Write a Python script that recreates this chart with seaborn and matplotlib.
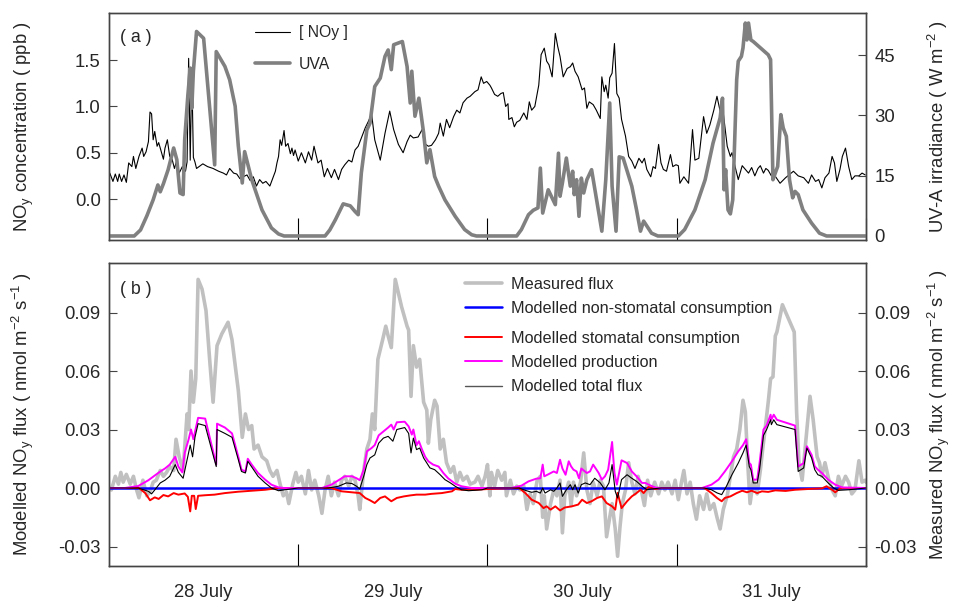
import matplotlib
matplotlib.use("Agg")
import matplotlib.pyplot as plt
from matplotlib.lines import Line2D
import seaborn as sns

sns.set_style("white")
plt.rcParams['font.family'] = ['Liberation Sans', 'DejaVu Sans']
plt.rcParams['mathtext.fontset'] = 'custom'
plt.rcParams['mathtext.rm'] = 'Liberation Sans'
plt.rcParams['mathtext.it'] = 'Liberation Sans:italic'
plt.rcParams['mathtext.default'] = 'regular'
plt.rcParams['axes.unicode_minus'] = False

# ---------------- data (hours since 28 July 00:00) ----------------
uva_hours = [0, 3.2, 4.0, 4.8, 5.6, 6.2, 6.5, 6.9, 7.5, 8.2, 8.6, 9.0, 9.4, 9.6, 10.0, 10.3, 10.5, 10.7, 11.1, 12.0,
             13.4, 13.6, 14.7, 15.3, 16.0, 16.4, 16.9, 17.2, 18.1, 19.4, 20.6, 21.5, 22.2,
             27.4, 28.0, 28.7, 29.7, 30.6, 31.2, 31.6, 32.0, 32.7, 33.1, 33.7, 34.4, 35.0, 35.4, 35.8, 36.1, 37.2,
             37.8, 38.2, 38.4, 38.8, 39.3, 39.9, 40.3, 40.7, 41.3, 41.8, 42.6, 43.9, 45.1, 46.0, 46.6,
             51.7, 52.3, 53.2, 53.8, 54.4, 54.7, 55.0, 55.3, 55.7, 56.6, 57.0, 57.2, 57.5, 58.0, 58.5, 58.8, 59.0,
             59.3, 59.6, 59.9, 60.2, 60.6, 61.2, 61.9, 62.5, 63.0, 63.5, 63.8, 64.3, 64.7, 65.2, 66.3, 66.9, 67.4,
             67.8, 68.8, 69.6,
             72.2, 73.0, 74.3, 75.6, 76.6, 77.5, 77.8, 78.0, 78.2, 78.5, 78.8, 79.1, 79.6, 79.8, 80.2, 80.4, 80.7,
             80.9, 81.1, 81.4, 81.7, 83.6, 83.9, 84.2, 84.5, 84.8, 85.2, 85.5, 85.9, 86.3, 86.7, 87.0, 87.4, 88.0,
             89.1, 90.1, 91.0, 96.0]
uva_values = [0, 0, 1.5, 5.0, 9.0, 12.7, 11.0, 13.0, 16.5, 21.9, 19.0, 10.7, 10.3, 24.0, 35.0, 41.8, 31.8, 41.0, 50.9, 49.2,
              17.7, 45.9, 42.2, 38.9, 32.3, 22.4, 13.2, 21.0, 14.0, 6.5, 2.0, 0.5, 0,
              0, 1.5, 4.0, 8.0, 7.5, 6.1, 5.3, 15.7, 26.4, 28.1, 37.2, 39.3, 44.7, 46.3, 41.4, 47.6, 48.4,
              42.2, 33.1, 41.0, 29.8, 34.3, 25.6, 18.2, 21.5, 14.8, 12.4, 9.0, 4.9, 1.6, 0.3, 0,
              0, 1.6, 5.3, 6.4, 7.0, 16.9, 5.7, 8.2, 11.5, 7.8, 20.6, 9.9, 13.2, 19.4, 12.4, 16.1, 10.3,
              14.0, 4.9, 14.4, 10.7, 14.0, 16.5, 8.2, 1.2, 14.0, 33.1, 12.4, 1.2, 19.7, 19.4, 12.4, 6.5, 1.2,
              3.7, 0.7, 0,
              0, 1.6, 6.5, 14.0, 23.1, 29.4, 34.3, 11.5, 16.5, 6.5, 5.5, 9.0, 38.9, 43.5, 44.7, 46.8, 53.0,
              48.8, 53.0, 48.8, 48.4, 45.1, 43.9, 14.0, 15.7, 17.3, 30.2, 26.9, 24.8, 14.0, 9.5, 11.1, 10.3, 6.5,
              3.2, 0.7, 0, 0]

noy_hours = [0.1, 0.5, 0.8, 1.1, 1.3, 1.6, 1.9, 2.2, 2.5, 2.9, 3.1, 3.4, 3.8, 4.2, 4.4, 4.7, 5.0, 5.2, 5.4, 5.6, 5.8,
             6.1, 6.3, 6.6, 6.9, 7.1, 7.4, 7.7, 8.0, 8.3, 8.6, 8.9, 9.3, 9.7, 9.9, 10.1, 10.3, 10.5, 10.7, 10.9,
             11.1, 11.9, 12.5, 13.2, 13.9, 14.5, 14.9, 15.3, 15.8, 16.2, 16.6, 17.0, 17.5, 17.9, 18.3, 18.7, 19.1,
             19.5, 19.9, 20.4, 20.8, 21.1, 21.3, 21.5, 21.7, 21.9, 22.2, 22.4, 22.7, 23.0, 23.2, 23.4,
             23.6, 24.0, 24.4, 24.9, 25.3, 25.7, 26.0, 26.5, 26.9, 27.3, 27.7, 28.2, 28.6, 29.1, 29.5, 29.9, 30.4,
             30.8, 31.2, 31.6, 32.1, 32.5, 32.9, 33.3, 33.7, 34.4, 35.0, 35.6, 36.1, 36.7, 37.3, 37.8, 38.2, 38.6,
             39.2, 39.7, 40.0, 40.5, 40.9, 41.4, 41.8, 42.0, 42.4, 42.8, 43.2, 43.7, 44.1, 44.5, 44.9, 45.4, 45.8,
             46.4, 46.8, 47.2, 47.5,
             47.9, 48.3, 48.5, 48.9, 49.3, 49.7, 50.0, 50.3, 50.6, 50.7, 51.1, 51.4, 51.7, 52.1, 52.6, 53.0, 53.3,
             53.6, 54.0, 54.5, 54.8, 55.2, 55.5, 55.8, 56.2, 56.6, 56.9, 57.2, 57.6, 58.1, 58.5, 58.8, 59.1, 59.5,
             60.0, 60.3, 60.6, 60.9, 61.4, 61.8, 62.3, 62.5, 62.8, 63.0, 63.3, 63.5, 63.8, 64.1, 64.4, 64.7, 65.0,
             65.5, 65.9, 66.3, 66.7, 67.2, 67.6, 67.9, 68.2, 68.7, 69.0, 69.3, 69.7, 70.0, 70.3, 70.7, 71.2, 71.5,
             71.9,
             72.2, 72.4, 72.9, 73.5, 74.0, 74.3, 74.8, 75.4, 75.8, 76.2, 76.7, 77.1, 77.5, 77.9, 78.4, 78.8, 79.0,
             79.4, 79.8, 80.3, 80.7, 81.1, 81.5, 81.9, 82.3, 82.6, 83.0, 83.3, 83.6, 84.0, 84.3, 85.1, 85.8, 86.8,
             87.4, 88.1, 88.7, 89.1, 89.6, 90.0, 90.4, 90.8, 91.3, 91.7, 92.0, 92.3, 92.7, 93.0, 93.4, 93.8, 94.2,
             94.6, 95.1, 95.5, 95.9]
noy_values = [0.28, 0.19, 0.27, 0.19, 0.27, 0.19, 0.26, 0.18, 0.39, 0.35, 0.46, 0.33, 0.46, 0.55, 0.46, 0.51, 0.62, 0.94,
              0.92, 0.64, 0.73, 0.57, 0.61, 0.52, 0.43, 0.55, 0.64, 0.46, 0.43, 0.33, 0.42, 0.28, 0.35, 0.30, 0.40,
              1.52, 0.42, 1.38, 0.45, 0.40, 0.33, 0.38, 0.35, 0.33, 0.30, 0.28, 0.26, 0.33, 0.28, 0.27, 0.22, 0.24,
              0.26, 0.20, 0.24, 0.14, 0.21, 0.17, 0.19, 0.14, 0.23, 0.30, 0.39, 0.46, 0.64, 0.58, 0.74, 0.57, 0.60,
              0.49, 0.55, 0.47,
              0.53, 0.41, 0.50, 0.39, 0.51, 0.42, 0.57, 0.39, 0.42, 0.24, 0.33, 0.23, 0.32, 0.21, 0.32, 0.37, 0.42,
              0.40, 0.53, 0.57, 0.68, 0.77, 0.84, 0.92, 0.64, 0.42, 0.71, 0.95, 0.75, 0.59, 0.50, 0.62, 0.69, 0.66,
              0.67, 0.75, 0.60, 0.57, 0.58, 0.64, 0.71, 0.82, 0.68, 0.86, 0.77, 0.89, 0.96, 0.93, 1.04, 1.09, 1.11,
              1.16, 1.18, 1.32, 1.25,
              1.27, 1.23, 1.20, 1.13, 1.11, 1.14, 1.15, 1.00, 1.03, 0.86, 0.88, 0.78, 0.83, 0.85, 0.93, 0.86, 1.05,
              0.96, 1.00, 1.23, 1.56, 1.63, 1.49, 1.45, 1.32, 1.79, 1.65, 1.54, 1.32, 1.41, 1.43, 1.47, 1.38, 1.32,
              1.18, 1.20, 0.98, 1.05, 1.02, 0.96, 0.87, 1.32, 1.16, 1.23, 1.09, 1.31, 1.36, 1.68, 1.14, 1.09, 0.86,
              0.68, 0.46, 0.41, 0.33, 0.44, 0.39, 0.44, 0.32, 0.24, 0.35, 0.33, 0.59, 0.39, 0.32, 0.30, 0.48, 0.35,
              0.37,
              0.36, 0.17, 0.24, 0.17, 0.75, 0.42, 0.44, 0.89, 0.71, 0.80, 0.96, 1.11, 0.95, 0.93, 0.57, 0.46, 0.50,
              0.35, 0.21, 0.36, 0.32, 0.28, 0.34, 0.25, 0.33, 0.36, 0.28, 0.33, 0.31, 0.25, 0.27, 0.17, 0.23, 0.30,
              0.25, 0.23, 0.17, 0.26, 0.19, 0.21, 0.12, 0.23, 0.28, 0.46, 0.39, 0.19, 0.32, 0.46, 0.55, 0.35, 0.21,
              0.25, 0.25, 0.28, 0.26]

meas_hours = [0.0, 0.3, 0.8, 1.2, 1.5, 1.8, 2.2, 2.7, 3.1, 3.5, 3.8, 4.3, 4.8, 5.2, 5.6, 6.0, 6.5, 6.9, 7.3, 7.7, 8.2,
              8.5, 8.9, 9.4, 9.9, 10.1, 10.4, 10.7, 11.0, 11.3, 11.8, 12.3, 12.8, 13.2, 13.7, 14.3, 15.1, 15.6, 16.4,
              16.9, 17.3, 17.7, 18.1, 18.4, 18.9, 19.4, 20.0, 20.4, 20.8, 21.3, 21.7, 22.1, 22.5, 22.8, 23.3, 23.7,
              24.0, 24.4, 24.9, 25.3, 25.7, 26.1, 26.6, 27.0, 27.4, 27.8, 28.2, 28.6, 29.1, 29.5, 29.9, 30.4, 30.8,
              31.2, 31.6, 31.8, 32.3, 32.7, 33.1, 33.4, 33.7, 34.1, 34.7, 35.1, 35.4, 35.8, 36.3, 37.1, 37.8, 38.0,
              38.3, 38.6, 39.0, 39.4, 39.9, 40.3, 40.5, 40.8, 41.3, 41.6, 42.0, 42.4, 42.8, 43.3, 43.7, 44.1, 44.5,
              44.9, 45.4, 45.8, 46.4, 46.8, 47.3, 47.7, 48.0,
              48.3, 48.5, 48.9, 49.3, 49.8, 50.2, 50.4, 50.9, 51.3, 51.7, 52.1, 52.6, 53.0, 53.4, 53.8, 54.3, 54.7,
              55.0, 55.2, 55.5, 56.0, 56.4, 56.8, 57.2, 57.5, 57.8, 58.3, 58.6, 58.9, 59.3, 59.8, 60.2, 60.6, 61.0,
              61.4, 61.9, 62.3, 62.7, 63.1, 63.5, 63.8, 64.2, 64.5, 64.8, 65.1, 65.5, 65.9, 66.3, 66.7, 67.1, 67.6,
              67.9, 68.3, 68.7, 69.2, 69.7, 70.1, 70.5, 70.9, 71.4, 71.8,
              72.2, 72.6, 72.9, 73.3, 73.7, 74.1, 74.5, 74.9, 75.4, 75.8, 76.2, 76.7, 77.1, 77.5, 77.9, 78.4, 78.8,
              79.2, 79.6, 80.0, 80.4, 80.7, 81.0, 81.3, 81.7, 82.2, 82.6, 82.9, 83.2, 83.6, 83.9, 84.2, 84.5, 84.7,
              85.4, 86.9, 87.2, 87.5, 87.9, 88.3, 88.9, 89.3, 89.8, 90.1, 90.4, 90.8, 91.3, 91.7, 92.1, 92.5, 92.9,
              93.4, 93.8, 94.2, 94.6, 95.1, 95.5, 95.9, 96.0]
meas_values = [0.000, -0.001, 0.006, 0.002, 0.008, 0.003, 0.007, 0.002, 0.006, -0.001, -0.005, 0.004, -0.004, -0.002,
               0.003, 0.004, 0.009, 0.006, 0.008, 0.011, 0.009, 0.025, 0.016, 0.009, 0.038, 0.030, 0.060, 0.044,
               0.056, 0.107, 0.102, 0.091, 0.064, 0.044, 0.073, 0.079, 0.085, 0.076, 0.050, 0.026, 0.038, 0.030,
               0.032, 0.020, 0.022, 0.016, 0.014, 0.009, 0.006, 0.009, 0.002, -0.004, -0.002, -0.008, 0.002, 0.008,
               0.003, 0.006, -0.003, 0.009, -0.001, 0.004, -0.004, -0.013, -0.001, 0.006, -0.004, 0.003, -0.004,
               0.004, 0.006, 0.001, 0.006, 0.004, -0.004, -0.011, 0.009, 0.020, 0.025, 0.038, 0.030, 0.066, 0.076,
               0.083, 0.078, 0.072, 0.107, 0.093, 0.083, 0.081, 0.047, 0.073, 0.062, 0.066, 0.044, 0.040, 0.023,
               0.035, 0.045, 0.042, 0.020, 0.025, 0.013, 0.008, 0.011, 0.003, 0.008, 0.004, 0.006, 0.002, 0.003,
               0.006, 0.001, 0.006, 0.012,
               -0.004, 0.008, 0.001, 0.009, 0.004, 0.008, -0.004, 0.004, -0.003, 0.001, -0.001, 0.001, -0.011,
               -0.003, -0.008, 0.004, 0.006, -0.015, -0.004, -0.021, -0.008, -0.001, -0.004, 0.004, -0.023, -0.004,
               0.003, -0.009, 0.003, -0.004, 0.003, 0.018, -0.001, -0.008, 0.003, -0.004, 0.004, 0.001, -0.025,
               -0.015, -0.008, -0.021, -0.035, -0.020, -0.008, -0.001, 0.013, 0.003, -0.003, 0.006, -0.003, -0.009,
               0.004, -0.004, 0.003, -0.003, 0.003, -0.001, 0.003, -0.003, 0.004,
               -0.006, 0.003, 0.009, -0.003, 0.003, -0.008, -0.016, -0.004, -0.011, -0.003, -0.011, -0.008, -0.015,
               -0.021, -0.011, -0.004, 0.006, 0.016, 0.020, 0.030, 0.045, 0.039, 0.013, -0.008, 0.004, -0.003,
               0.009, 0.020, 0.030, 0.044, 0.056, 0.057, 0.078, 0.080, 0.094, 0.080, 0.039, 0.013, 0.004, 0.021,
               0.047, 0.035, 0.016, 0.013, 0.006, 0.013, 0.004, -0.001, -0.004, 0.006, 0.001, 0.006, 0.003, -0.003,
               -0.001, 0.014, 0.003, 0.004, 0.003]

nonstom_hours = [0, 24, 48, 72, 96]
nonstom_values = [0, 0, 0, 0, 0]

stom_hours = [0, 3.8, 4.6, 5.2, 5.8, 6.3, 6.9, 7.5, 8.2, 8.8, 9.6, 10.0, 10.3, 10.5, 10.8, 11.0, 11.3, 12.2, 13.4,
              14.7, 16.4, 18.1, 19.8, 21.5,
              28.2, 29.5, 30.8, 31.8, 32.5, 33.1, 33.7, 34.4, 35.0, 35.8, 36.5, 37.4, 38.2, 39.0, 40.1, 40.9, 42.2,
              43.5, 43.9, 44.7, 46.4, 48.1,
              52.0, 52.8, 53.6, 54.5, 55.1, 55.5, 56.0, 56.6, 57.2, 57.8, 58.7, 59.5, 60.0, 60.6, 61.2, 61.9, 62.5,
              63.1, 63.8, 64.2, 64.5, 65.0, 65.7, 66.3, 66.9, 67.4, 67.8, 68.4, 69.3, 70.0,
              75.5, 76.4, 77.1, 77.7, 78.1, 78.8, 79.6, 80.3, 80.9, 81.5, 82.2, 82.8, 83.6, 84.5, 85.8, 87.0, 88.7,
              90.4, 91.0, 91.7, 92.1, 92.7, 93.5, 96]
stom_values = [0, 0, -0.0026, -0.0063, -0.0048, -0.0056, -0.0036, -0.0043, -0.0026, -0.0034, -0.0028, -0.0045, -0.012,
               -0.0040, -0.0040, -0.0108, -0.0040, -0.0037, -0.0034, -0.0026, -0.0019, -0.0014, -0.0009, 0,
               0, -0.0017, -0.0022, -0.0026, -0.0051, -0.0063, -0.0077, -0.0051, -0.0043, -0.0068, -0.0051, -0.0043,
               -0.0038, -0.0034, -0.0034, -0.0030, -0.0026, -0.0017, -0.0005, -0.0009, -0.0009, -0.0005,
               0, -0.0026, -0.0060, -0.0077, -0.0103, -0.0094, -0.0111, -0.0094, -0.0115, -0.0100, -0.0094, -0.0085,
               -0.0060, -0.0077, -0.0068, -0.0051, -0.0043, -0.0077, -0.0094, -0.0111, -0.0025, -0.0103, -0.0068,
               -0.0043, -0.0026, -0.0009, -0.0026, 0.0005, -0.0005, 0,
               0, -0.0026, -0.0051, -0.0068, -0.0051, -0.0043, -0.0026, -0.0014, -0.0022, -0.0014, -0.0026, -0.0017,
               -0.0020, -0.0012, -0.0015, -0.0009, -0.0005, -0.0002, 0.0009, -0.0009, -0.0022, -0.0002, 0, 0]

prod_hours = [0, 2.0, 3.7, 5.0, 6.0, 6.7, 7.1, 7.7, 8.4, 8.8, 9.3, 9.6, 10.1, 10.4, 10.7, 11.3, 12.2, 13.6, 13.7,
              14.7, 15.6, 16.4, 16.8, 17.3, 17.6, 18.1, 18.9, 19.8, 20.6, 21.5, 22.2,
              27.0, 28.2, 29.1, 29.9, 30.8, 31.4, 31.8, 32.3, 32.7, 33.3, 33.7, 34.2, 34.8, 35.4, 35.8, 36.1, 36.5,
              37.5, 38.0, 38.4, 38.6, 39.0, 39.3, 39.7, 40.1, 40.5, 41.1, 41.8, 42.4, 43.0, 43.9, 44.7, 46.0,
              51.0, 52.3, 53.2, 54.2, 54.7, 55.0, 55.2, 55.7, 56.4, 56.8, 57.2, 57.5, 57.9, 58.3, 58.6, 58.9, 59.3,
              59.6, 59.9, 60.6, 61.0, 61.4, 62.1, 62.5, 62.9, 63.3, 63.8, 64.1, 64.4, 65.0, 65.7, 66.3, 66.9, 67.6,
              68.0, 68.6, 69.3, 70.0,
              75.2, 76.4, 77.3, 78.1, 79.0, 79.8, 80.4, 80.8, 81.2, 81.4, 81.7, 82.2, 82.5, 83.0, 83.4, 83.9, 84.0,
              84.3, 84.7, 87.0, 87.4, 88.1, 88.5, 89.1, 89.5, 89.9, 90.4, 91.2, 92.1, 93.0, 96]
prod_values = [0, 0, 0.0010, 0.0040, 0.0070, 0.0090, 0.0100, 0.0120, 0.0160, 0.0110, 0.0080, 0.0180, 0.0250, 0.0300,
               0.0250, 0.0360, 0.0356, 0.0120, 0.0330, 0.0310, 0.0280, 0.0160, 0.0094, 0.0085, 0.0150, 0.0120,
               0.0077, 0.0043, 0.0017, 0.0003, 0,
               0, 0.0017, 0.0040, 0.0060, 0.0060, 0.0050, 0.0040, 0.0094, 0.0188, 0.0205, 0.0220, 0.0270, 0.0290,
               0.0310, 0.0325, 0.0300, 0.0337, 0.0340, 0.0316, 0.0274, 0.0300, 0.0220, 0.0240, 0.0197, 0.0160,
               0.0137, 0.0120, 0.0110, 0.0077, 0.0050, 0.0022, 0.0009, 0,
               0, 0.0012, 0.0034, 0.0048, 0.0050, 0.0120, 0.0060, 0.0070, 0.0085, 0.0077, 0.0145, 0.0100, 0.0068,
               0.0137, 0.0111, 0.0094, 0.0085, 0.0050, 0.0100, 0.0077, 0.0085, 0.0120, 0.0077, 0.0043, 0.0060,
               0.0094, 0.0236, 0.0077, 0.0017, 0.0142, 0.0128, 0.0085, 0.0060, 0.0026, 0.0026, 0.0014, 0.0002, 0,
               0, 0.0017, 0.0043, 0.0085, 0.0137, 0.0188, 0.0220, 0.0250, 0.0128, 0.0120, 0.0043, 0.0043, 0.0128,
               0.0300, 0.0320, 0.0376, 0.0350, 0.0376, 0.0350, 0.0320, 0.0110, 0.0128, 0.0214, 0.0170, 0.0111,
               0.0094, 0.0077, 0.0043, 0.0017, 0.0003, 0]

total_hours = [0, 3.7, 5.0, 5.4, 5.8, 6.5, 7.1, 7.7, 8.4, 8.8, 9.4, 9.9, 10.3, 10.6, 10.9, 11.3, 12.2, 13.6, 13.7,
               14.7, 15.6, 16.4, 16.8, 17.3, 17.6, 18.1, 18.9, 19.8, 20.6, 21.5, 22.3, 23.2, 24.0,
               27.8, 29.1, 30.1, 30.8, 31.4, 31.8, 32.3, 32.7, 33.1, 33.7, 34.2, 34.8, 35.4, 36.0, 36.5, 37.5, 38.0,
               38.3, 38.6, 39.0, 39.4, 39.9, 40.3, 40.7, 41.3, 42.0, 42.6, 43.3, 43.9, 44.7, 45.6, 47.3, 48.0,
               52.0, 52.8, 53.6, 54.2, 54.7, 55.0, 55.3, 56.0, 56.4, 56.8, 57.2, 57.5, 58.0, 58.5, 58.8, 59.1, 59.5,
               59.9, 60.4, 61.0, 61.6, 62.3, 62.9, 63.4, 63.8, 64.2, 64.5, 65.0, 65.7, 66.3, 66.9, 67.6, 68.2, 68.8,
               70.0,
               75.5, 76.4, 77.1, 77.7, 78.3, 79.0, 79.8, 80.4, 80.8, 81.2, 81.4, 81.7, 82.2, 82.5, 83.0, 83.4, 83.9,
               84.0, 84.3, 84.7, 87.0, 87.4, 88.1, 88.5, 89.1, 89.5, 89.9, 90.4, 91.2, 91.9, 92.5, 93.8, 96]
total_values = [0, 0, -0.0017, -0.0030, -0.0010, 0.0026, 0.0040, 0.0060, 0.0120, 0.0080, 0.0050, 0.0145, 0.0220,
                0.0160, 0.0260, 0.0330, 0.0320, 0.0110, 0.0300, 0.0280, 0.0260, 0.0145, 0.0085, 0.0077, 0.0137,
                0.0108, 0.0060, 0.0026, 0, -0.0014, -0.0009, -0.0004, 0,
                0, 0.0009, 0.0026, 0.0023, 0.0009, -0.0005, 0.0060, 0.0120, 0.0154, 0.0170, 0.0230, 0.0256, 0.0265,
                0.0240, 0.0300, 0.0310, 0.0280, 0.0180, 0.0256, 0.0197, 0.0205, 0.0154, 0.0128, 0.0103, 0.0094,
                0.0068, 0.0043, 0.0026, 0.0009, -0.0009, -0.0014, -0.0009, 0,
                0, -0.0012, -0.0022, -0.0017, -0.0026, 0, -0.0026, -0.0009, -0.0017, 0, 0.0026, -0.0043, -0.0009,
                0.0017, -0.0009, 0.0017, -0.0026, 0.0017, 0.0026, 0.0017, 0.0050, 0.0026, -0.0009, 0.0026, 0.0120,
                -0.0017, -0.0051, 0.0043, 0.0068, 0.0050, 0.0034, 0.0009, -0.0009, -0.0005, 0,
                0, -0.0009, -0.0025, -0.0034, 0.0009, 0.0068, 0.0128, 0.0180, 0.0220, 0.0110, 0.0094, 0.0026,
                0.0026, 0.0094, 0.0270, 0.0300, 0.0350, 0.0325, 0.0350, 0.0325, 0.0300, 0.0085, 0.0103, 0.0205,
                0.0154, 0.0094, 0.0068, 0.0060, 0.0026, 0, -0.0012, -0.0009, 0]

day_ticks = [24, 48, 72, 96]
day_label_pos = [12, 36, 60, 84]
day_labels = ["28 July", "29 July", "30 July", "31 July"]

# ---------------- figure ----------------
W, H = 954, 604
fig = plt.figure(figsize=(W / 100, H / 100), dpi=100)

def frac(x0, y0, x1, y1):
    return [x0 / W, 1 - y1 / H, (x1 - x0) / W, (y1 - y0) / H]

spine_col = '#444444'
TFS = 13.3

axA = fig.add_axes(frac(109, 13, 866, 240))
axA2 = axA.twinx()
axB = fig.add_axes(frac(109, 263, 866, 566))
axB2 = axB.twinx()

sns.lineplot(x=noy_hours, y=noy_values, ax=axA, color='black', linewidth=0.8, estimator=None, sort=False)
sns.lineplot(x=uva_hours, y=uva_values, ax=axA2, color='#808080', linewidth=2.6, estimator=None, sort=False)

sns.lineplot(x=meas_hours, y=meas_values, ax=axB2, color='#c0c0c0', linewidth=2.6, estimator=None, sort=False)
sns.lineplot(x=nonstom_hours, y=nonstom_values, ax=axB, color='#0000ff', linewidth=1.8, estimator=None, sort=False)
sns.lineplot(x=stom_hours, y=stom_values, ax=axB, color='#ff0000', linewidth=1.4, estimator=None, sort=False)
sns.lineplot(x=prod_hours, y=prod_values, ax=axB, color='#ff00ff', linewidth=1.4, estimator=None, sort=False)
sns.lineplot(x=total_hours, y=total_values, ax=axB, color='black', linewidth=0.8, estimator=None, sort=False)

axB2.set_zorder(0)
axB.set_zorder(1)
axB.patch.set_visible(False)
axA.set_zorder(0)
axA2.set_zorder(1)

for ax in (axA, axA2, axB, axB2):
    ax.set_xlim(0, 96)
    for s in ax.spines.values():
        s.set_color(spine_col)
        s.set_linewidth(1.0)
    ax.set_xlabel('')
    ax.set_ylabel('')

axA.set_ylim(-0.443, 2.01)
axA.set_yticks([0, 0.5, 1.0, 1.5])
axA.set_yticklabels(['0.0', '0.5', '1.0', '1.5'])
axA2.set_ylim(-1.0, 55.5)
axA2.set_yticks([0, 15, 30, 45])
axA2.set_yticklabels(['0', '15', '30', '45'])

flux_ticks = [-0.03, 0.0, 0.03, 0.06, 0.09]
flux_labels = ['-0.03', '0.00', '0.03', '0.06', '0.09']
for ax in (axB, axB2):
    ax.set_ylim(-0.04, 0.1154)
    ax.set_yticks(flux_ticks)
    ax.set_yticklabels(flux_labels)

for ax in (axA, axB):
    ax.tick_params(axis='y', which='both', left=True, right=False, labelleft=True, labelright=False,
                   direction='in', length=6, width=0.8, color=spine_col, labelsize=TFS, pad=6)
for ax in (axA2, axB2):
    ax.tick_params(axis='y', which='both', left=False, right=True, labelleft=False, labelright=True,
                   direction='in', length=6, width=0.8, color=spine_col, labelsize=TFS, pad=6)

for ax in (axA, axA2, axB, axB2):
    ax.set_xticks(day_ticks)
    ax.set_xticks(day_label_pos, minor=True)
    ax.tick_params(axis='x', which='both', bottom=False, top=False, labelbottom=False, labeltop=False)
for ax in (axA, axB):
    ax.tick_params(axis='x', which='major', bottom=True, direction='in', length=16, width=0.8,
                   color='black', labelbottom=False)

axB.set_xticklabels(day_labels, minor=True)
axB.tick_params(axis='x', which='minor', bottom=True, length=0, labelbottom=True, labelsize=TFS, pad=13)

axA.set_ylabel('NO$_y$ concentration ( ppb )', fontsize=TFS)
axA.yaxis.set_label_coords(-0.097, 0.5)
axA2.set_ylabel('UV-A irradiance ( W m$^{-2}$ )', fontsize=TFS)
axA2.yaxis.set_label_coords(1.079, 0.5)
axB.set_ylabel('Modelled NO$_y$ flux ( nmol m$^{-2}$ s$^{-1}$ )', fontsize=TFS)
axB.yaxis.set_label_coords(-0.097, 0.5)
axB2.set_ylabel('Measured NO$_y$ flux ( nmol m$^{-2}$ s$^{-1}$ )', fontsize=TFS)
axB2.yaxis.set_label_coords(1.079, 0.5)

axA2.text(0.0145, 0.89, '( a )', transform=axA2.transAxes, fontsize=12.8, va='center', ha='left')
axB.text(0.0145, 0.914, '( b )', transform=axB.transAxes, fontsize=12.8, va='center', ha='left')

# legends
hA = [Line2D([], [], color='black', lw=0.8), Line2D([], [], color='#808080', lw=2.6)]
legA = axA2.legend(hA, ['[ NOy ]', 'UVA'], loc='upper left', bbox_to_anchor=(0.193, 0.945),
                   frameon=False, fontsize=11.3, handlelength=2.2, handletextpad=0.6,
                   labelspacing=1.05, borderpad=0, borderaxespad=0)

hB1 = [Line2D([], [], color='#c0c0c0', lw=2.6), Line2D([], [], color='#0000ff', lw=1.8)]
legB1 = axB.legend(hB1, ['Measured flux', 'Modelled non-stomatal consumption'], loc='upper left',
                   bbox_to_anchor=(0.470, 0.955), frameon=False, fontsize=11.7, handlelength=2.3,
                   handletextpad=0.55, labelspacing=0.58, borderpad=0, borderaxespad=0)
axB.add_artist(legB1)
hB2 = [Line2D([], [], color='#ff0000', lw=1.4), Line2D([], [], color='#ff00ff', lw=1.4),
       Line2D([], [], color='#555555', lw=1.0)]
legB2 = axB.legend(hB2, ['Modelled stomatal consumption', 'Modelled production', 'Modelled total flux'],
                   loc='upper left', bbox_to_anchor=(0.470, 0.777), frameon=False, fontsize=11.7,
                   handlelength=2.3, handletextpad=0.55, labelspacing=0.58, borderpad=0, borderaxespad=0)

fig.savefig('out.png', dpi=100)
